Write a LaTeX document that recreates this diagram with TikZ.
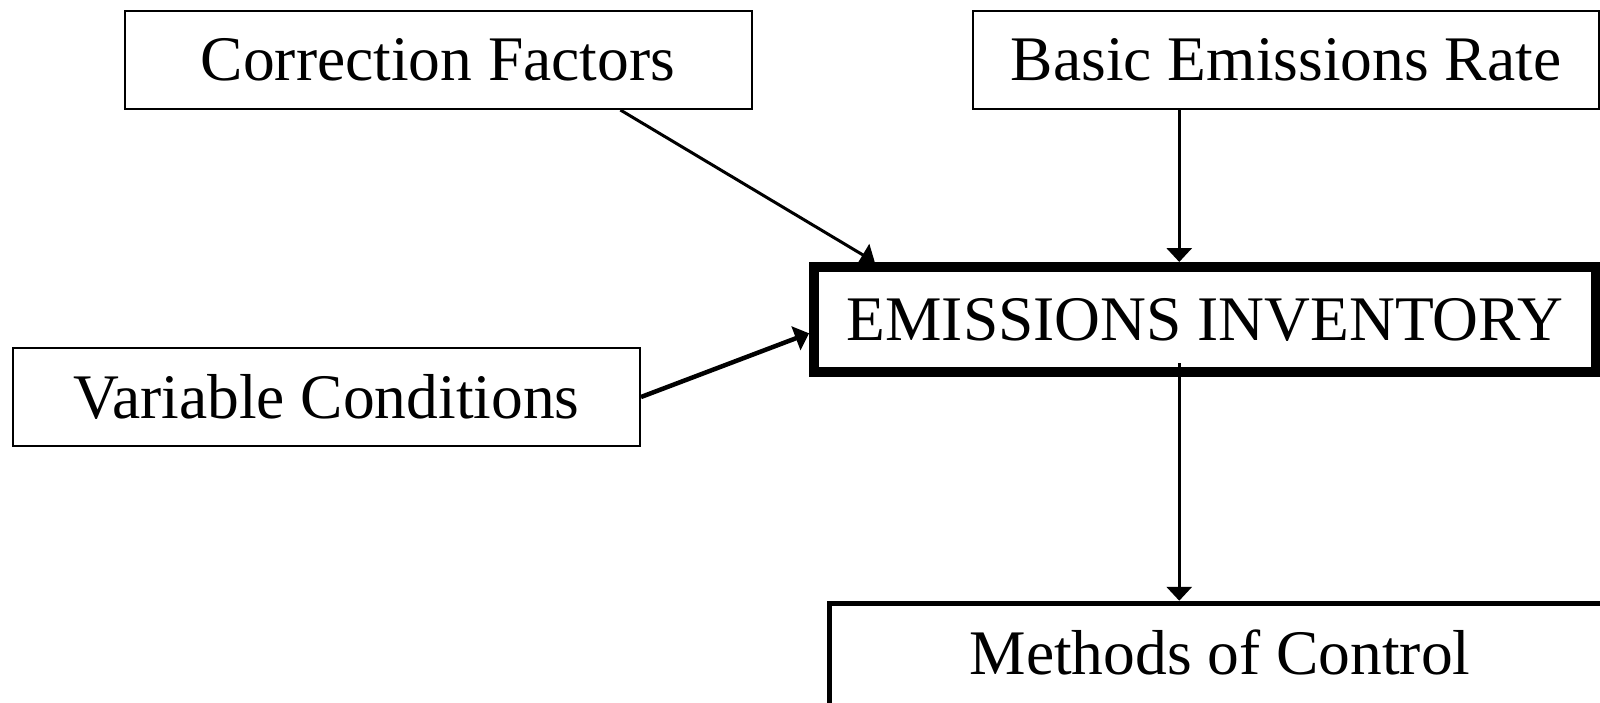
\documentclass[tikz,border=0pt]{standalone}
\usepackage{fontspec}
\setmainfont{Liberation Serif}
\usetikzlibrary{arrows.meta, positioning, calc}

\begin{document}
\begin{tikzpicture}[x=1pt, y=-1pt, >={Triangle[width=25pt,length=14pt]}, line width=3.5pt, font=\fontsize{63.5}{70}\selectfont]
  \tikzset{
    inbox/.style={draw, line width=2pt, inner sep=0pt, minimum width=627pt, minimum height=98pt},
    mainbox/.style={draw, line width=10pt, inner sep=0pt, minimum width=782pt, minimum height=105pt},
    outbox/.style={draw, line width=5.5pt, inner sep=0pt, minimum width=781pt, minimum height=110pt, text depth=12pt},
  }
  \useasboundingbox (0,0) rectangle (1600,702);
  \clip (0,0) rectangle (1600,702);
  \node[inbox] (cf) at (438,60) {Correction Factors};
  \node[inbox, minimum width=626pt] (ber) at (1286,60) {Basic Emissions Rate};
  \node[inbox] (vc) at (326.5,397) {Variable Conditions};
  \node[mainbox] (inv) at (1205,319.5) {EMISSIONS INVENTORY};
  \node[outbox] (moc) at (1220,658.5) {Methods of Control};
  \coordinate (bx) at ($(ber.south west)!0.33!(ber.south east)$);
  \draw[->, line width=3pt] ($(cf.south west)!0.79!(cf.south east)$) -- ($(inv.north west)!0.083!(inv.north east)$);
  \draw[->] (bx) -- (bx |- inv.north);
  \draw[->, line width=4.5pt] (vc.east) -- ($(inv.south west)!0.38!(inv.north west)$);
  \draw[->] ([yshift=14pt]bx |- inv.south) -- (bx |- moc.north);
\end{tikzpicture}
\end{document}
